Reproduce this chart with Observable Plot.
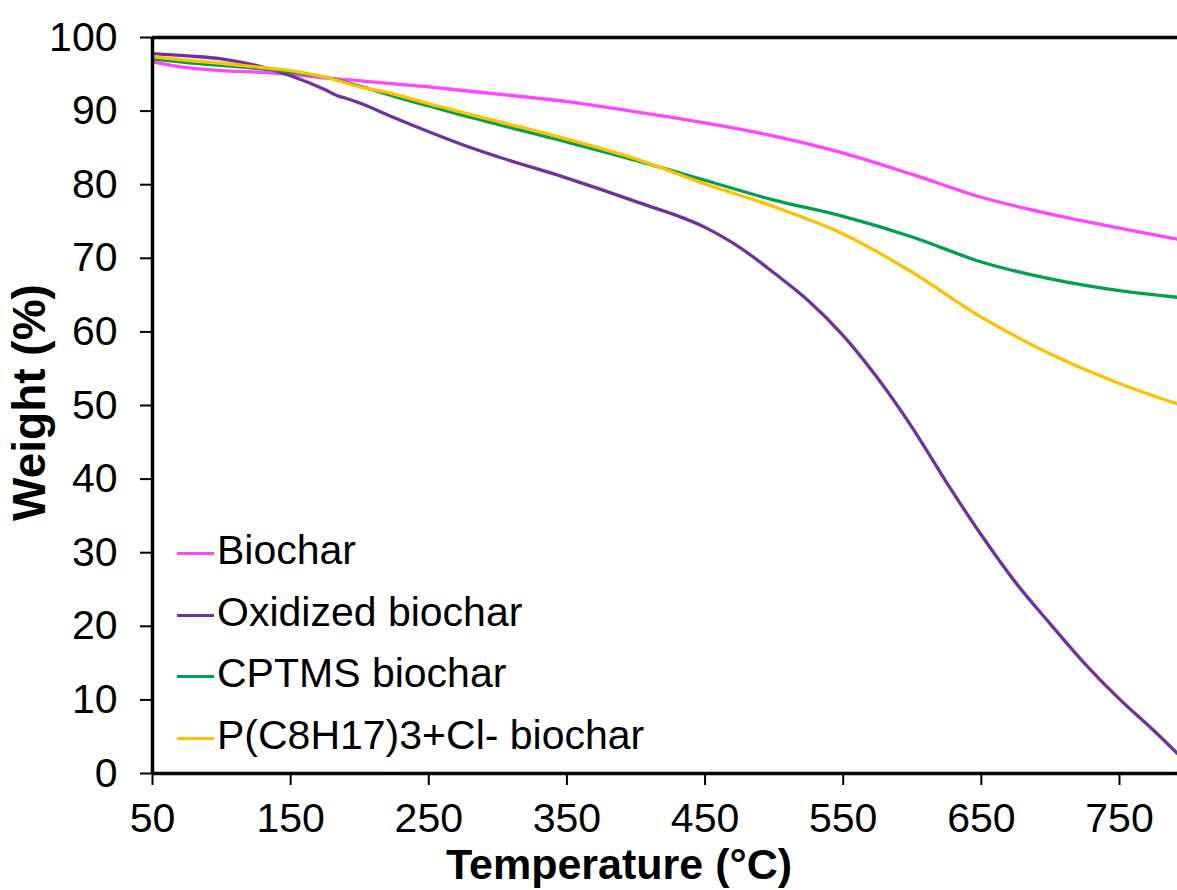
<!DOCTYPE html>
<html>
<head>
<meta charset="utf-8">
<script src="https://cdn.jsdelivr.net/npm/d3@7"></script>
<script src="https://cdn.jsdelivr.net/npm/@observablehq/plot@0.6"></script>
<style>
  body { margin: 0; background: #fff; }
  #chart { position: relative; width: 1177px; height: 890px; overflow: hidden;
           font-family: "Liberation Sans", Arial, Helvetica, sans-serif; color: #000; }
  #chart svg g[aria-label="x-axis tick"], #chart svg g[aria-label="y-axis tick"] { stroke-width: 2; }
  .legend { position: absolute; left: 177px; top: 520px; font-size: 41px; line-height: 61.5px; }
  .legend .item { display: flex; align-items: center; white-space: nowrap; }
  .legend .swatch { width: 37px; height: 3px; margin-right: 3px; margin-top: 6px; }
</style>
</head>
<body>
<div id="chart"></div>
<script>
// TGA curves: weight remaining (%) versus temperature (°C)
const seriesNames = ["Biochar", "Oxidized biochar", "CPTMS biochar", "P(C8H17)3+Cl- biochar"];
const seriesColors = ["#FF45FF", "#7030A0", "#00A04F", "#FFC000"];

const biocharT = [50, 75, 100, 125, 150, 175, 200, 225, 250, 275, 300, 350, 400, 450, 500, 550, 600, 650, 700, 750, 792];
const biocharW = [96.7, 95.9, 95.5, 95.3, 95.0, 94.5, 94.1, 93.7, 93.3, 92.8, 92.3, 91.3, 89.9, 88.4, 86.6, 84.3, 81.4, 78.3, 76.0, 74.1, 72.6];

const oxidizedT = [50, 75, 100, 125, 150, 175, 185, 190, 200, 225, 250, 275, 300, 350, 400, 450, 475, 500, 525, 550, 575, 600, 625, 650, 675, 700, 725, 750, 775, 792];
const oxidizedW = [97.8, 97.5, 97.1, 96.2, 94.8, 92.9, 92.0, 91.75, 91.1, 89.1, 87.2, 85.4, 83.8, 80.9, 77.7, 74.2, 71.5, 68.0, 64.2, 59.5, 53.7, 47.0, 39.5, 32.4, 25.9, 20.3, 14.9, 10.1, 5.8, 2.7];

const cptmsT = [50, 75, 100, 125, 150, 175, 200, 225, 250, 275, 300, 350, 400, 450, 500, 550, 600, 650, 700, 750, 792];
const cptmsW = [97.1, 96.6, 96.2, 95.8, 95.3, 94.6, 93.4, 92.0, 90.7, 89.4, 88.2, 85.8, 83.3, 80.6, 77.9, 75.7, 72.9, 69.5, 67.2, 65.6, 64.7];

const phosT = [50, 75, 100, 125, 150, 175, 200, 225, 250, 275, 300, 350, 400, 450, 500, 550, 600, 650, 700, 750, 792];
const phosW = [97.4, 96.9, 96.5, 96.0, 95.5, 94.6, 93.3, 92.3, 91.0, 89.8, 88.6, 86.2, 83.5, 80.1, 77.0, 73.3, 68.1, 62.0, 57.0, 53.0, 50.2];

const xTicks = [50, 150, 250, 350, 450, 550, 650, 750];
const yTicks = [0, 10, 20, 30, 40, 50, 60, 70, 80, 90, 100];
const xTitle = "Temperature (°C)";
const yTitle = "Weight (%)";

// long-format table for the line mark
const seriesData = [[biocharT, biocharW], [oxidizedT, oxidizedW], [cptmsT, cptmsW], [phosT, phosW]];
const rows = seriesData.flatMap(([ts, ws], i) => ts.map((t, j) => ({series: seriesNames[i], T: t, W: ws[j]})));

const plot = Plot.plot({
  width: 1177,
  height: 890,
  marginLeft: 152,
  marginRight: 0,
  marginTop: 37,
  marginBottom: 117,
  style: {fontFamily: "'Liberation Sans', Arial, Helvetica, sans-serif", fontSize: "41px", color: "#000", background: "#fff"},
  x: {domain: [50, 792], ticks: xTicks, tickSize: 12, tickPadding: 17, tickFormat: d => String(d), label: null},
  y: {domain: [0, 100], ticks: yTicks, tickSize: 12, tickPadding: 23, label: null},
  color: {domain: seriesNames, range: seriesColors},
  marks: [
    Plot.line(rows, {x: "T", y: "W", z: "series", stroke: "series", strokeWidth: 3.3, curve: "monotone-x"}),
    Plot.ruleY([100], {stroke: "#000", strokeWidth: 3.5}),
    Plot.ruleY([0], {stroke: "#000", strokeWidth: 3.5}),
    Plot.ruleX([50], {stroke: "#000", strokeWidth: 3.5}),
    Plot.text([xTitle], {text: d => d, frameAnchor: "bottom", textAnchor: "middle", dx: -46, dy: 92,
                         lineAnchor: "middle", fontWeight: "bold", fontSize: 43}),
    Plot.text([yTitle], {text: d => d, frameAnchor: "left", textAnchor: "middle", rotate: -90, dx: -122, dy: -3,
                         lineAnchor: "middle", fontWeight: "bold", fontSize: 46})
  ]
});

const chart = document.getElementById("chart");
chart.appendChild(plot);

// legend in the lower-left corner of the plot area
const legend = document.createElement("div");
legend.className = "legend";
seriesNames.forEach((name, i) => {
  const item = document.createElement("div");
  item.className = "item";
  const sw = document.createElement("span");
  sw.className = "swatch";
  sw.style.background = seriesColors[i];
  const label = document.createElement("span");
  label.textContent = name;
  item.appendChild(sw);
  item.appendChild(label);
  legend.appendChild(item);
});
chart.appendChild(legend);
</script>
</body>
</html>
